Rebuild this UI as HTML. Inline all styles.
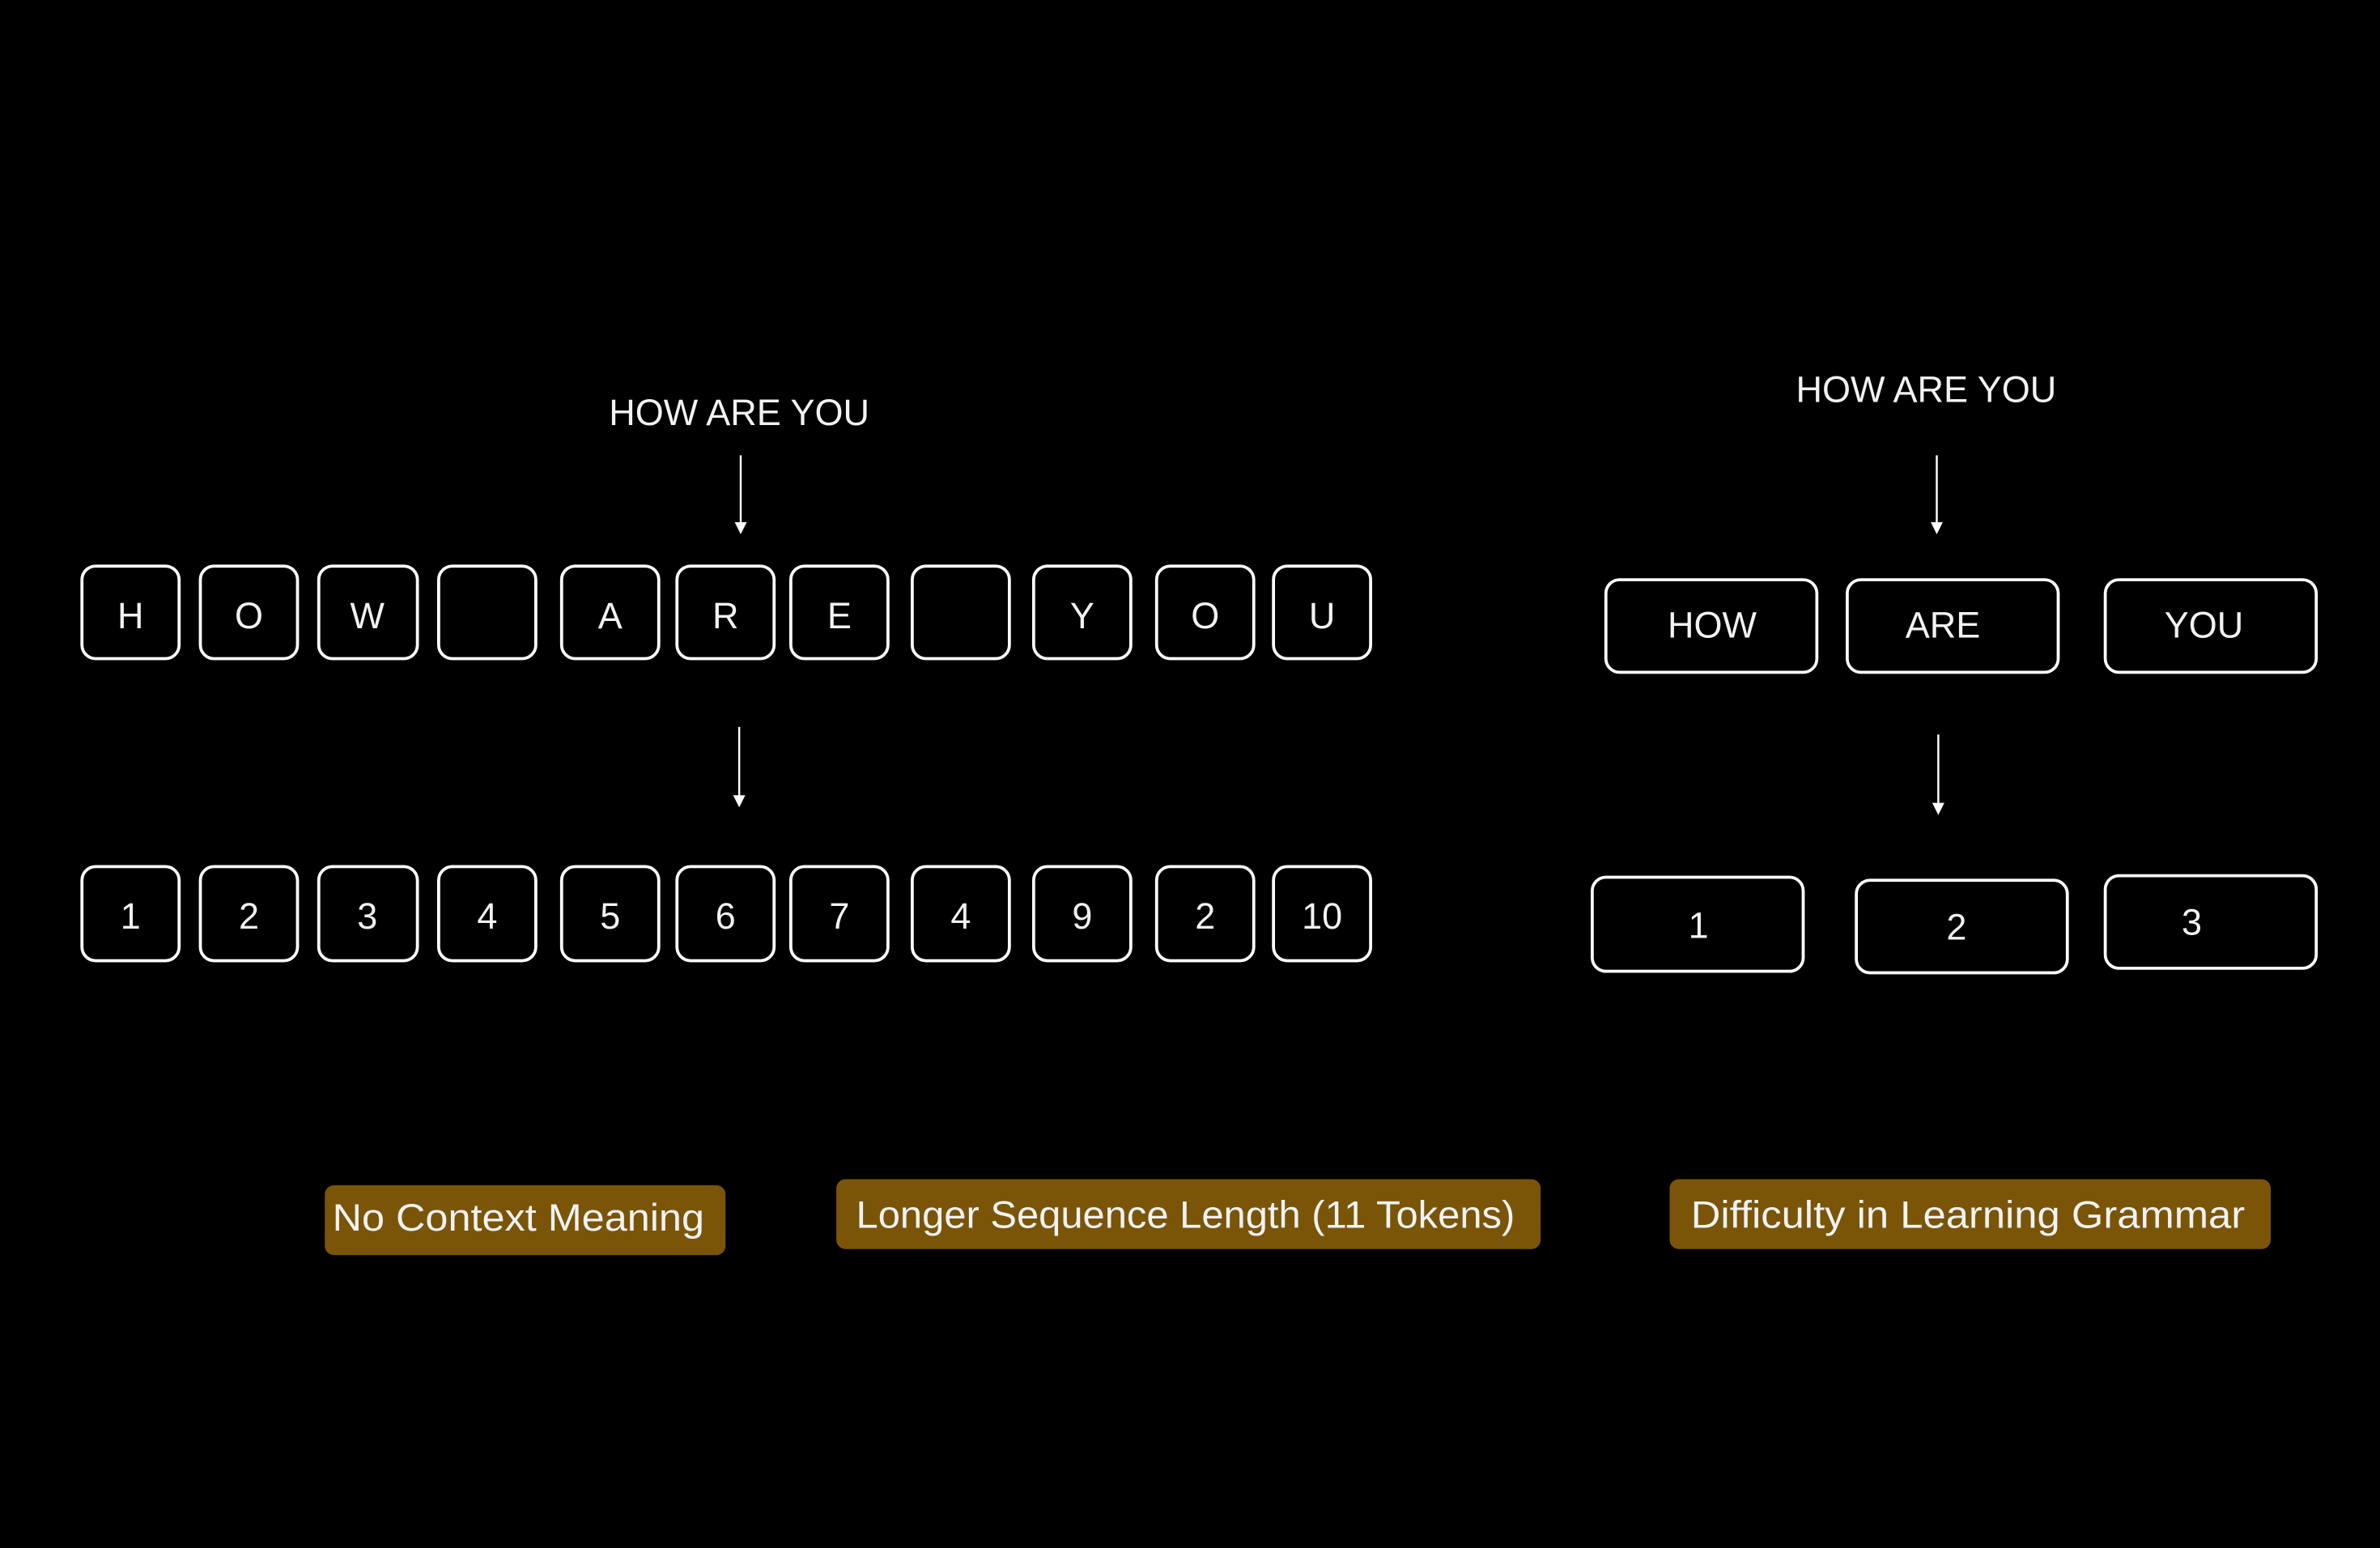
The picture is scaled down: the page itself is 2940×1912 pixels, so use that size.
<!DOCTYPE html>
<html><head><style>
html,body{margin:0;padding:0;background:#000;width:2940px;height:1912px;overflow:hidden}
svg{display:block}
text{font-family:"Liberation Sans",sans-serif;fill:#f2f2f2}
</style></head><body>
<svg width="2940" height="1912" viewBox="0 0 1568 1020" preserveAspectRatio="none">
<defs><marker id="a" markerWidth="8" markerHeight="8" refX="4" refY="4" orient="auto" markerUnits="userSpaceOnUse"><path d="M0,0 L8,4 L0,8 z" fill="#fff"/></marker></defs>
<g fill="none" stroke="#fff" stroke-width="2">
<rect x="54" y="373" width="64" height="61" rx="9"/>
<rect x="132" y="373" width="64" height="61" rx="9"/>
<rect x="210" y="373" width="65" height="61" rx="9"/>
<rect x="289" y="373" width="64" height="61" rx="9"/>
<rect x="370" y="373" width="64" height="61" rx="9"/>
<rect x="446" y="373" width="64" height="61" rx="9"/>
<rect x="521" y="373" width="64" height="61" rx="9"/>
<rect x="601" y="373" width="64" height="61" rx="9"/>
<rect x="681" y="373" width="64" height="61" rx="9"/>
<rect x="762" y="373" width="64" height="61" rx="9"/>
<rect x="839" y="373" width="64" height="61" rx="9"/>
<rect x="54" y="571" width="64" height="62" rx="9"/>
<rect x="132" y="571" width="64" height="62" rx="9"/>
<rect x="210" y="571" width="65" height="62" rx="9"/>
<rect x="289" y="571" width="64" height="62" rx="9"/>
<rect x="370" y="571" width="64" height="62" rx="9"/>
<rect x="446" y="571" width="64" height="62" rx="9"/>
<rect x="521" y="571" width="64" height="62" rx="9"/>
<rect x="601" y="571" width="64" height="62" rx="9"/>
<rect x="681" y="571" width="64" height="62" rx="9"/>
<rect x="762" y="571" width="64" height="62" rx="9"/>
<rect x="839" y="571" width="64" height="62" rx="9"/>
<rect x="1058" y="382" width="139" height="61" rx="9"/>
<rect x="1217" y="382" width="139" height="61" rx="9"/>
<rect x="1387" y="382" width="139" height="61" rx="9"/>
<rect x="1049" y="578" width="139" height="62" rx="9"/>
<rect x="1223" y="580" width="139" height="61" rx="9"/>
<rect x="1387" y="577" width="139" height="61" rx="9"/>
</g>
<g stroke="#fff" stroke-width="1.3">
<line x1="488" y1="300" x2="488" y2="348" marker-end="url(#a)"/>
<line x1="487" y1="479" x2="487" y2="528" marker-end="url(#a)"/>
<line x1="1276" y1="300" x2="1276" y2="348" marker-end="url(#a)"/>
<line x1="1277" y1="484" x2="1277" y2="533" marker-end="url(#a)"/>
</g>
<g font-size="24" text-anchor="middle">
<text x="487" y="280">HOW ARE YOU</text>
<text x="1269" y="265">HOW ARE YOU</text>
<text x="86" y="414">H</text><text x="164" y="414">O</text><text x="242" y="414">W</text>
<text x="402" y="414">A</text><text x="478" y="414">R</text><text x="553" y="414">E</text>
<text x="713" y="414">Y</text><text x="794" y="414">O</text><text x="871" y="414">U</text>
<text x="86" y="612">1</text><text x="164" y="612">2</text><text x="242" y="612">3</text>
<text x="321" y="612">4</text><text x="402" y="612">5</text><text x="478" y="612">6</text>
<text x="553" y="612">7</text><text x="633" y="612">4</text><text x="713" y="612">9</text>
<text x="794" y="612">2</text><text x="871" y="612">10</text>
<text x="1128" y="420">HOW</text><text x="1280" y="420">ARE</text><text x="1452" y="420">YOU</text>
<text x="1119" y="618">1</text><text x="1289" y="619">2</text><text x="1444" y="616">3</text>
</g>
<g fill="#7a5508">
<rect x="214" y="781" width="264" height="46" rx="6"/>
<rect x="551" y="777" width="464" height="46" rx="6"/>
<rect x="1100" y="777" width="396" height="46" rx="6"/>
</g>
<g font-size="25" style="fill:#fbf6e4">
<text x="219" y="811" textLength="245" lengthAdjust="spacingAndGlyphs">No Context Meaning</text>
<text x="564" y="809" textLength="434" lengthAdjust="spacingAndGlyphs">Longer Sequence Length (11 Tokens)</text>
<text x="1114" y="809" textLength="365" lengthAdjust="spacingAndGlyphs">Difficulty in Learning Grammar</text>
</g>
</svg>
</body></html>
